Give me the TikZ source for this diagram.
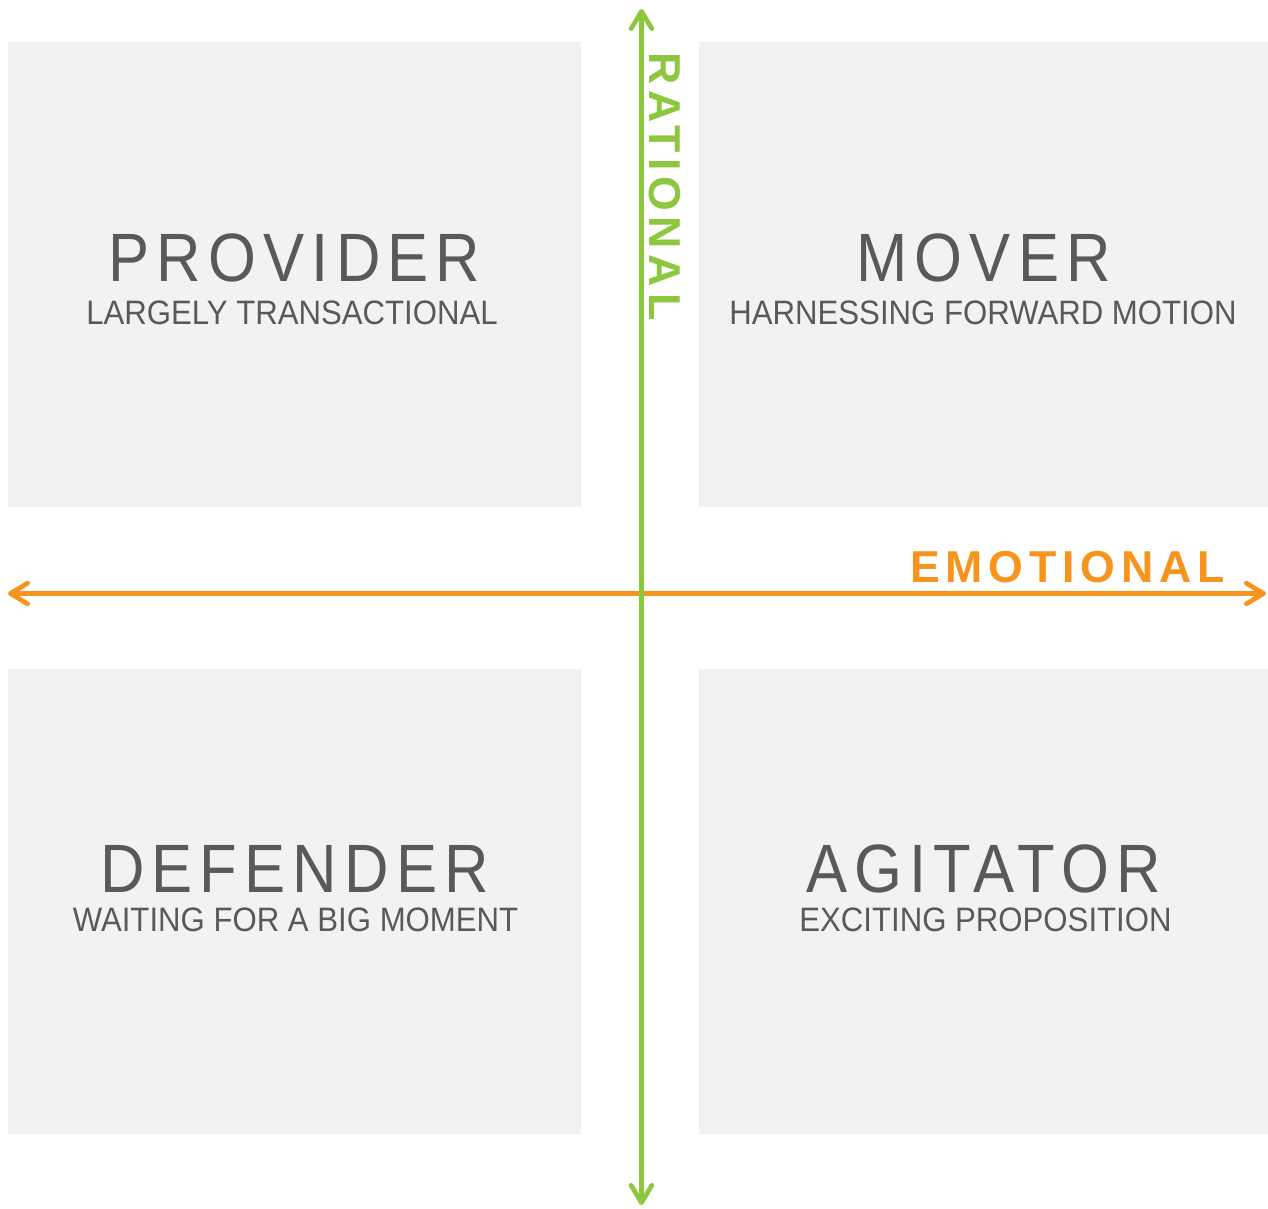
\documentclass[tikz,border=0pt]{standalone}
\usepackage{fontspec}
\usetikzlibrary{arrows.meta}
\setmainfont{Liberation Sans}
\newfontfamily\headfont[FakeStretch=0.9,LetterSpace=10.5]{Liberation Sans}
\newfontfamily\subfont[FakeStretch=0.92]{Liberation Sans}
\newfontfamily\axisfont[LetterSpace=13]{Liberation Sans}

\definecolor{panelgrey}{HTML}{F2F2F2}
\definecolor{textgrey}{HTML}{58595B}
\definecolor{ratgreen}{HTML}{8DC63F}
\definecolor{emoorange}{HTML}{F7941D}

\begin{document}
\begin{tikzpicture}[x=0.75pt,y=-0.75pt,
  panel/.style={fill=panelgrey,inner sep=0,outer sep=0,
    minimum width=429.75pt,minimum height=348.75pt},
  title/.style={text=textgrey,inner sep=0,anchor=base,
    font=\headfont\fontsize{51.3pt}{60pt}\selectfont},
  subtitle/.style={text=textgrey,inner sep=0,anchor=base,
    font=\subfont\fontsize{25.4pt}{30pt}\selectfont},
  axislabel/.style={inner sep=0,anchor=base west,
    font=\axisfont\bfseries\fontsize{33.5pt}{40pt}\selectfont},
  axis/.style={line width=3.5pt,
    arrows={Straight Barb[round,length=13pt,width=15.5pt]-Straight Barb[round,length=13pt,width=15.5pt]}}]
\useasboundingbox (0,0) rectangle (1268,1208);

% quadrants
\node[panel] (provider) at (294.5,274.5) {};
\node[panel,minimum width=426.75pt] (mover) at (983.5,274.5) {};
\node[panel] (defender) at (294.5,901.5) {};
\node[panel,minimum width=426.75pt] (agitator) at (983.5,901.5) {};

\node[title] (providertitle) at (294.5,281.5) {PROVIDER};
\node[subtitle] (providersub) at (292,324.5) {LARGELY TRANSACTIONAL};
\node[title] (movertitle) at (983.5,281.5) {MOVER};
\node[subtitle] (moversub) at (983,324.5) {HARNESSING FORWARD MOTION};
\node[title] (defendertitle) at (294.5,892) {DEFENDER};
\node[subtitle] (defendersub) at (295.5,931) {WAITING FOR A BIG MOMENT};
\node[title] (agitatortitle) at (983.5,892) {AGITATOR};
\node[subtitle] (agitatorsub) at (985.5,931) {EXCITING PROPOSITION};

% axes
\coordinate (left) at (8,593.5);
\coordinate (right) at (1266,593.5);
\coordinate (top) at (641.5,9);
\coordinate (bottom) at (641.5,1205);

\draw[axis,emoorange] (left)--(right);
\draw[axis,ratgreen] (top)--(bottom);

\node[axislabel,text=emoorange] (emotional) at (910,582) {EMOTIONAL};
\node[axislabel,text=ratgreen,rotate=-90] (rational) at (649,52) {RATIONAL};
\end{tikzpicture}
\end{document}
